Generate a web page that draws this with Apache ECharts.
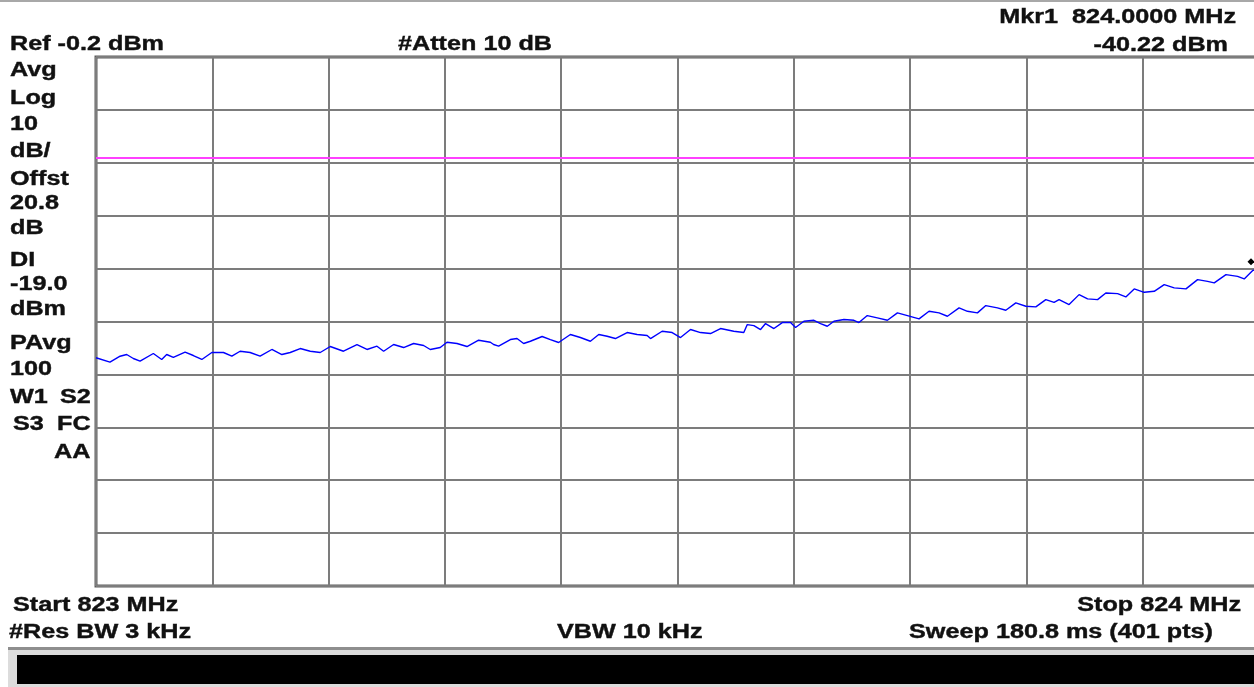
<!DOCTYPE html>
<html>
<head>
<meta charset="utf-8">
<script src="https://cdn.jsdelivr.net/npm/echarts@6/dist/echarts.min.js"></script>
<style>
html,body{margin:0;padding:0;background:#fff;}
#chart{width:1254px;height:687px;}
</style>
</head>
<body>
<div id="chart"></div>
<script>
// ---- data ----
const freqMHz = [823.0000,823.0120,823.0207,823.0264,823.0321,823.0379,823.0493,823.0565,823.0608,823.0665,
823.0766,823.0837,823.0910,823.0996,823.1096,823.1168,823.1239,823.1325,823.1411,823.1512,
823.1598,823.1670,823.1756,823.1842,823.1928,823.2014,823.2128,823.2244,823.2330,823.2416,
823.2473,823.2559,823.2645,823.2731,823.2817,823.2874,823.2960,823.3018,823.3104,823.3190,
823.3290,823.3391,823.3419,823.3462,823.3563,823.3620,823.3677,823.3735,823.3836,823.3907,
823.3978,823.4079,823.4165,823.4251,823.4323,823.4395,823.4466,823.4567,823.4653,823.4739,
823.4768,823.4868,823.4954,823.5026,823.5112,823.5198,823.5284,823.5370,823.5484,823.5570,
823.5600,823.5657,823.5714,823.5757,823.5829,823.5901,823.5972,823.6015,823.6087,823.6173,
823.6230,823.6288,823.6345,823.6431,823.6517,823.6560,823.6632,823.6718,823.6805,823.6891,
823.6977,823.7077,823.7163,823.7249,823.7321,823.7421,823.7493,823.7579,823.7651,823.7751,
823.7823,823.7909,823.7995,823.8081,823.8167,823.8238,823.8281,823.8367,823.8453,823.8526,
823.8612,823.8683,823.8784,823.8855,823.8927,823.9013,823.9099,823.9185,823.9271,823.9372,
823.9472,823.9558,823.9615,823.9716,823.9816,823.9873,823.9948,824.0000];
const levelDbm = [-56.86,-57.69,-56.56,-56.24,-56.99,-57.50,-56.05,-57.18,-56.24,-56.80,
-55.80,-56.43,-57.18,-55.86,-55.86,-56.56,-55.62,-55.86,-56.56,-55.29,
-56.24,-55.86,-55.11,-55.62,-55.86,-54.73,-55.62,-54.35,-55.29,-54.67,
-55.62,-54.35,-54.92,-54.16,-54.54,-55.29,-54.92,-53.92,-54.16,-54.73,
-53.54,-53.92,-54.35,-54.67,-53.41,-53.22,-54.16,-53.73,-52.84,-53.41,
-53.97,-52.46,-53.03,-53.73,-52.46,-52.78,-53.22,-52.09,-52.46,-52.65,
-53.22,-51.84,-52.09,-53.03,-51.52,-52.09,-52.28,-51.33,-51.84,-52.09,
-50.58,-50.77,-51.52,-50.39,-51.33,-50.20,-50.20,-51.14,-49.95,-49.77,
-50.39,-50.90,-49.95,-49.63,-49.77,-50.20,-48.88,-49.31,-49.77,-48.37,
-48.88,-49.50,-48.07,-48.37,-49.01,-47.43,-48.07,-48.37,-46.99,-47.43,
-47.88,-46.48,-47.12,-47.24,-45.86,-46.37,-45.86,-46.80,-44.92,-45.73,
-45.86,-44.60,-44.73,-45.35,-43.84,-44.48,-44.29,-43.03,-43.65,-43.84,
-42.09,-42.41,-42.71,-41.14,-41.46,-41.95,-40.33,-40.22];
const startMHz = 823;
const stopMHz = 824;
const divMHz = 0.1;
const bottomDbm = -100;
const topDbm = 0;
const dbPerDiv = 10;
const displayLineDbm = -19.0;
const markerFreq = 824.0;
const markerLevel = -40.22;

// ---- annotation texts ----
const txtRef = 'Ref -0.2 dBm';
const txtAtten = '#Atten 10 dB';
const txtMkr = 'Mkr1  824.0000 MHz';
const txtMkrVal = '-40.22 dBm';
const leftLabels = ['Avg','Log','10','dB/','Offst','20.8','dB','DI','-19.0','dBm','PAvg','100','W1','S2','S3','FC','AA'];
const txtStart = 'Start 823 MHz';
const txtStop = 'Stop 824 MHz';
const txtRbw = '#Res BW 3 kHz';
const txtVbw = 'VBW 10 kHz';
const txtSweep = 'Sweep 180.8 ms (401 pts)';

const trace = freqMHz.map((f, i) => [f, levelDbm[i]]);

function T(text, x, y, align) {
  return {
    type: 'text', x: x, y: y, scaleX: 1.26, z: 100,
    style: {
      text: text, fill: '#111',
      font: 'bold 20px "Liberation Sans", Arial, sans-serif',
      stroke: '#111', lineWidth: 0.4,
      align: align || 'left', verticalAlign: 'middle',
      textAlign: align || 'left', textVerticalAlign: 'middle'
    }
  };
}

const leftY = [70, 98, 124, 151, 179, 203, 228, 260, 284, 309, 343, 369, 397, 397, 424, 424, 452];
const leftX = [10, 10, 10, 10, 10, 10, 10, 10, 10, 10, 10, 10, 10, 60, 13, 57, 54];

const graphics = [
  {type:'rect', shape:{x:0,y:0,width:1254,height:2}, style:{fill:'#a8a8a8'}, z:50},
  {type:'rect', shape:{x:8,y:647,width:1246,height:3}, style:{fill:'#8e8e8e'}, z:50},
  {type:'rect', shape:{x:8,y:650,width:1246,height:37}, style:{fill:'#dcdcdc'}, z:50},
  {type:'rect', shape:{x:17,y:655,width:1237,height:29}, style:{fill:'#000'}, z:51},
  T(txtRef, 10, 44.5),
  T(txtAtten, 398, 44.5),
  T(txtMkr, 1236, 17.5, 'right'),
  T(txtMkrVal, 1228, 45.5, 'right'),
  T(txtStart, 13, 605),
  T(txtStop, 1241, 605, 'right'),
  T(txtRbw, 9, 632),
  T(txtVbw, 557, 632),
  T(txtSweep, 1213, 632, 'right')
];
leftLabels.forEach((s, i) => graphics.push(T(s, leftX[i], leftY[i])));

const chart = echarts.init(document.getElementById('chart'), null, {renderer: 'canvas'});
chart.setOption({
  animation: false,
  backgroundColor: '#fff',
  grid: {
    left: 96, top: 57, width: 1163, height: 529,
    containLabel: false, outerBoundsMode: 'none',
    show: true, borderColor: '#5c5c5c', borderWidth: 3, backgroundColor: '#fff'
  },
  xAxis: {
    type: 'value', min: startMHz, max: stopMHz, interval: divMHz,
    axisLine: {show: false}, axisTick: {show: false}, axisLabel: {show: false},
    splitLine: {show: true, lineStyle: {color: '#7c7c7c', width: 2}}
  },
  yAxis: {
    type: 'value', min: bottomDbm, max: topDbm, interval: dbPerDiv,
    axisLine: {show: false}, axisTick: {show: false}, axisLabel: {show: false},
    splitLine: {show: true, lineStyle: {color: '#7c7c7c', width: 2}}
  },
  series: [{
    type: 'line',
    data: trace,
    showSymbol: false,
    lineStyle: {color: '#0000ff', width: 1.4},
    itemStyle: {color: '#0000ff'},
    z: 10,
    markLine: {
      silent: true, symbol: 'none',
      label: {show: false},
      lineStyle: {color: '#ff40ff', width: 2, type: 'solid'},
      data: [{yAxis: displayLineDbm}]
    },
    markPoint: {
      silent: true,
      symbol: 'diamond', symbolSize: 7, symbolOffset: [-8, -8],
      itemStyle: {color: '#000'},
      label: {show: false},
      data: [{coord: [markerFreq, markerLevel]}]
    }
  }],
  graphic: graphics
});
</script>
</body>
</html>
